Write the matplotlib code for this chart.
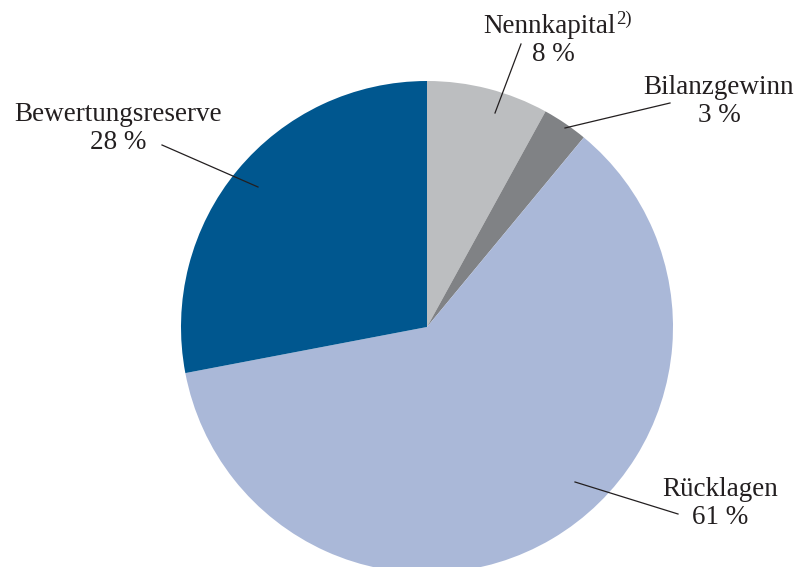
import matplotlib.pyplot as plt

plt.rcParams['font.family'] = ['Liberation Serif', 'DejaVu Serif']

# Anteile am Eigenkapital (im Uhrzeigersinn ab 12 Uhr)
names = ['Nennkapital', 'Bilanzgewinn', 'Rücklagen', 'Bewertungsreserve']
footnotes = ['2)', '', '', '']
shares = [8, 3, 61, 28]
colors = ['#bcbec0', '#808285', '#aab8d8', '#00578f']

# Beschriftungen: Textmitte/Grundlinie und Ankerpunkt im Segment (Pixel, y nach unten)
label_pos = [(553, 33), (719, 94), (720, 496), (118, 121)]
anchor_pos = [(495, 113), (565, 128), (575, 482), (258, 187)]
line_end = [(521, 44), (670, 103), (678, 514), (162, 145)]

W, H = 803, 567
text_color = '#231f20'
fs = 19.5

fig = plt.figure(figsize=(W / 100, H / 100), dpi=100)
ax = fig.add_axes([0, 0, 1, 1])

ax.pie(shares, colors=colors, startangle=90, counterclock=False,
       center=(427, H - 327), radius=246, wedgeprops=dict(linewidth=0))

for name, note, val, (tx, ty), (px, py), (lx, ly) in zip(
        names, footnotes, shares, label_pos, anchor_pos, line_end):
    ax.plot([px, lx], [H - py, H - ly], color=text_color, lw=0.9)
    if note:
        # Name rechtsbündig, Fußnote hochgestellt direkt dahinter
        ax.text(616, H - ty, name, ha='right', va='baseline', fontsize=fs, color=text_color)
        ax.text(616, H - ty + 9, note, ha='left', va='baseline', fontsize=13.5, color=text_color)
    else:
        ax.text(tx, H - ty, name, ha='center', va='baseline', fontsize=fs, color=text_color)
    ax.text(tx, H - ty - 28, f'{val} %', ha='center', va='baseline', fontsize=fs, color=text_color)

ax.set_xlim(0, W)
ax.set_ylim(0, H)
ax.set_aspect('equal')
ax.axis('off')

fig.savefig('out.png', dpi=100)
